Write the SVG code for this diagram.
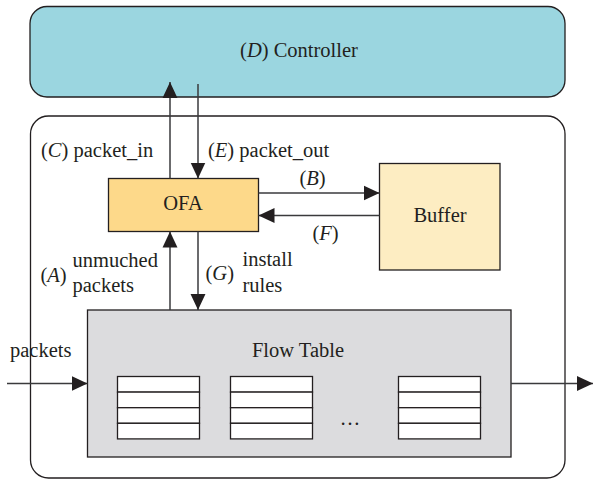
<svg xmlns="http://www.w3.org/2000/svg" width="594" height="479" viewBox="0 0 594 479">
  <style>
    text { font-family: "Liberation Serif", "DejaVu Serif", serif; font-size: 20.5px; fill: #231f20; }
    .it { font-style: italic; }
    .box { stroke: #231f20; stroke-width: 1.3; }
    .cell { fill: #ffffff; stroke: #231f20; stroke-width: 1.3; }
    .conn { stroke: #3a3a3c; stroke-width: 1.5; fill: none; }
  </style>
  <defs>
    <marker id="arrow" markerUnits="userSpaceOnUse" markerWidth="16" markerHeight="16" viewBox="0 0 15 14" refX="15" refY="7" orient="auto">
      <path d="M0,0 L15,7 L0,14 Z" fill="#231f20"/>
    </marker>
  </defs>

  <!-- switch enclosure -->
  <rect id="switch" x="30.5" y="116" width="534.5" height="362" rx="18" fill="#ffffff" stroke="#231f20" stroke-width="1.3"/>

  <g id="controller">
    <rect class="box" x="30" y="6.5" width="535" height="90.5" rx="17" fill="#9bd6e0"/>
    <text x="299" y="57" text-anchor="middle" font-size="21">(<tspan class="it">D</tspan>) Controller</text>
  </g>

  <g id="ofa">
    <rect class="box" x="108.5" y="178.5" width="150" height="53" fill="#fdd98a"/>
    <text x="183" y="210" text-anchor="middle">OFA</text>
  </g>

  <g id="buffer">
    <rect class="box" x="379.5" y="163.5" width="120.5" height="106.5" fill="#fdedc2"/>
    <text x="440" y="222" text-anchor="middle">Buffer</text>
  </g>

  <g id="flow-table">
    <rect class="box" x="87.5" y="310" width="423.5" height="147" fill="#dcdcde"/>
    <text x="298" y="357" text-anchor="middle">Flow Table</text>
    <g id="table-1">
      <rect class="cell" x="117.5" y="376.5" width="82" height="15.6"/>
      <rect class="cell" x="117.5" y="392.1" width="82" height="15.6"/>
      <rect class="cell" x="117.5" y="407.7" width="82" height="15.6"/>
      <rect class="cell" x="117.5" y="423.3" width="82" height="15.6"/>
    </g>
    <g id="table-2">
      <rect class="cell" x="230.5" y="376.5" width="82" height="15.6"/>
      <rect class="cell" x="230.5" y="392.1" width="82" height="15.6"/>
      <rect class="cell" x="230.5" y="407.7" width="82" height="15.6"/>
      <rect class="cell" x="230.5" y="423.3" width="82" height="15.6"/>
    </g>
    <g id="table-n">
      <rect class="cell" x="398.5" y="376.5" width="82" height="15.6"/>
      <rect class="cell" x="398.5" y="392.1" width="82" height="15.6"/>
      <rect class="cell" x="398.5" y="407.7" width="82" height="15.6"/>
      <rect class="cell" x="398.5" y="423.3" width="82" height="15.6"/>
    </g>
    <text x="350" y="425" text-anchor="middle" font-size="17">…</text>
  </g>

  <g id="connectors">
    <!-- packet_in (C) -->
    <line class="conn" x1="170" y1="178.5" x2="170" y2="82" marker-end="url(#arrow)"/>
    <!-- packet_out (E) -->
    <line class="conn" x1="198" y1="84" x2="198" y2="178.5" marker-end="url(#arrow)"/>
    <!-- (B) OFA to Buffer -->
    <line class="conn" x1="258.5" y1="193" x2="379.5" y2="193" marker-end="url(#arrow)"/>
    <!-- (F) Buffer to OFA -->
    <line class="conn" x1="379.5" y1="215.5" x2="258.5" y2="215.5" marker-end="url(#arrow)"/>
    <!-- (A) unmatched packets -->
    <line class="conn" x1="170" y1="310" x2="170" y2="231.5" marker-end="url(#arrow)"/>
    <!-- (G) install rules -->
    <line class="conn" x1="198" y1="231.5" x2="198" y2="310" marker-end="url(#arrow)"/>
    <!-- ingress / egress -->
    <line class="conn" x1="7" y1="383.5" x2="87.5" y2="383.5" marker-end="url(#arrow)"/>
    <line class="conn" x1="511" y1="383.5" x2="593" y2="383.5" marker-end="url(#arrow)"/>
  </g>

  <g id="labels">
    <text x="41" y="157">(<tspan class="it">C</tspan>) packet_in</text>
    <text x="208" y="157">(<tspan class="it">E</tspan>) packet_out</text>
    <text x="312.5" y="185" text-anchor="middle">(<tspan class="it">B</tspan>)</text>
    <text x="325.5" y="240" text-anchor="middle">(<tspan class="it">F</tspan>)</text>
    <text x="40.5" y="281.5">(<tspan class="it">A</tspan>)</text>
    <text x="72.5" y="267">unmuched</text>
    <text x="72.5" y="291.5">packets</text>
    <text x="205.5" y="280">(<tspan class="it">G</tspan>)</text>
    <text x="242.5" y="266">install</text>
    <text x="242.5" y="291.5">rules</text>
    <text x="10" y="357">packets</text>
  </g>
</svg>
